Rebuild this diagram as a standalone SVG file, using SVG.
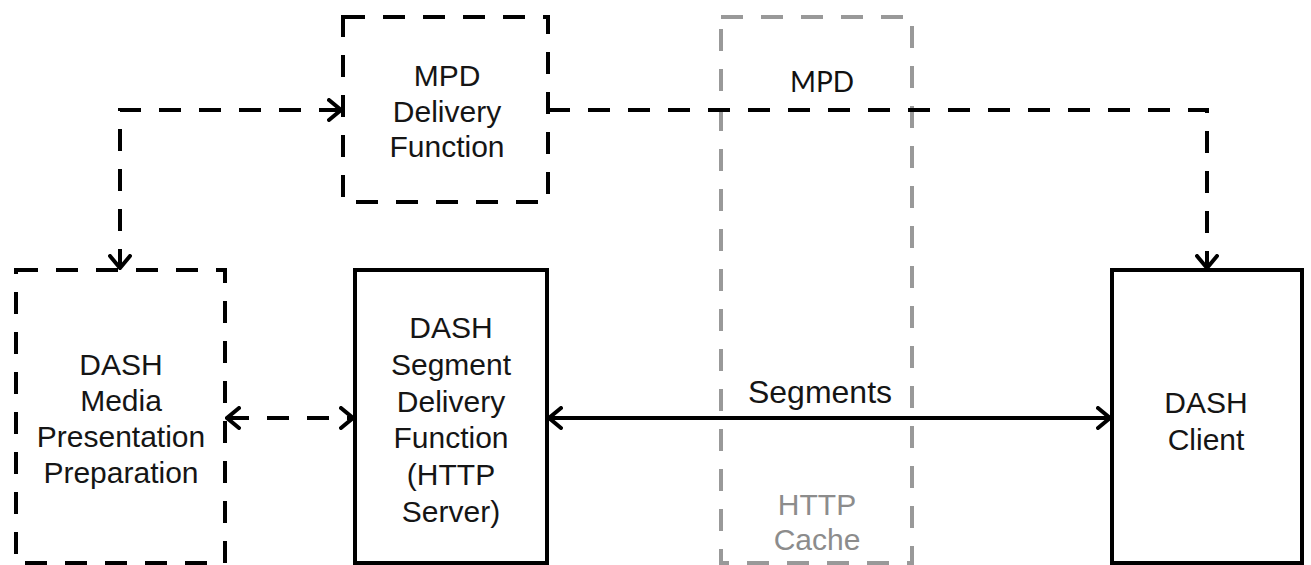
<svg xmlns="http://www.w3.org/2000/svg" width="1311" height="565" viewBox="0 0 1311 565">
<style>
  .lbl { font-family: "Liberation Sans", Arial, sans-serif; font-size: 30px; fill: #151515; text-anchor: middle; }
  .gray { fill: #8c8c8c; }
  .dbox { fill: none; stroke: #000; stroke-width: 4; stroke-dasharray: 22 18; }
  .sbox { fill: none; stroke: #000; stroke-width: 4; }
  .gbox { fill: none; stroke: #999; stroke-width: 4; stroke-dasharray: 22 18; }
  .dline { fill: none; stroke: #000; stroke-width: 4; stroke-dasharray: 22 18; }
  .sline { fill: none; stroke: #000; stroke-width: 4; }
</style>
<defs>
  <marker id="arr" viewBox="0 0 16 24" refX="14" refY="12" markerWidth="16" markerHeight="24" markerUnits="userSpaceOnUse" orient="auto-start-reverse">
    <path d="M2,2 L14,12 L2,22" fill="none" stroke="#000" stroke-width="4" stroke-dasharray="none" stroke-linecap="round" stroke-linejoin="miter"/>
  </marker>
</defs>
<rect width="1311" height="565" fill="#fff"/>

<g id="http-cache">
  <rect class="gbox" x="721" y="17" width="191" height="546"/>
  <text class="lbl gray" x="817" y="515">HTTP</text>
  <text class="lbl gray" x="817" y="550">Cache</text>
</g>

<g id="connectors">
  <path class="dline" d="M341,110 H120 V268" marker-start="url(#arr)" marker-end="url(#arr)"/>
  <path class="dline" d="M548,110 H1207 V268" marker-end="url(#arr)"/>
  <path class="dline" d="M227,418 H353" marker-start="url(#arr)" marker-end="url(#arr)"/>
  <path class="sline" d="M549,418 H1110" marker-start="url(#arr)" marker-end="url(#arr)"/>
  <text x="822" y="92" style="font-family: Lato, 'Open Sans', sans-serif; font-size: 28px; fill: #111; text-anchor: middle;">MPD</text>
  <text class="lbl" x="820" y="403" style="font-size: 32px;">Segments</text>
</g>

<g id="mpd-delivery">
  <rect class="dbox" x="343" y="17" width="205" height="185"/>
  <text class="lbl" x="447" y="86">MPD</text>
  <text class="lbl" x="447" y="122">Delivery</text>
  <text class="lbl" x="447" y="157">Function</text>
</g>

<g id="media-preparation">
  <rect class="dbox" x="16" y="270" width="209" height="293"/>
  <text class="lbl" x="121" y="375">DASH</text>
  <text class="lbl" x="121" y="411">Media</text>
  <text class="lbl" x="121" y="447">Presentation</text>
  <text class="lbl" x="121" y="483">Preparation</text>
</g>

<g id="segment-delivery">
  <rect class="sbox" x="355" y="270" width="192" height="293"/>
  <text class="lbl" x="451" y="338">DASH</text>
  <text class="lbl" x="451" y="375">Segment</text>
  <text class="lbl" x="451" y="412">Delivery</text>
  <text class="lbl" x="451" y="448">Function</text>
  <text class="lbl" x="451" y="485">(HTTP</text>
  <text class="lbl" x="451" y="522">Server)</text>
</g>

<g id="dash-client">
  <rect class="sbox" x="1112" y="270" width="190" height="293"/>
  <text class="lbl" x="1206" y="413">DASH</text>
  <text class="lbl" x="1206" y="450">Client</text>
</g>
</svg>
